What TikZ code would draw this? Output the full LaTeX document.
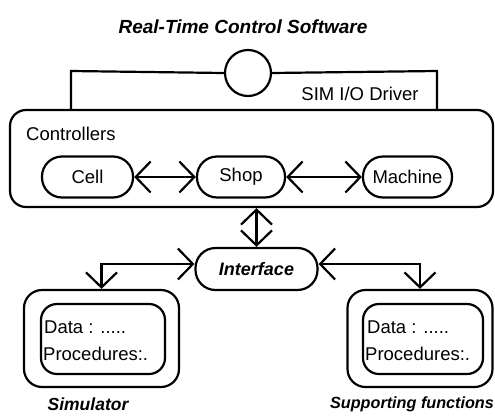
\documentclass[tikz,border=0pt]{standalone}
\usepackage{fontspec}
\setmainfont{Liberation Sans}
\usetikzlibrary{arrows.meta,calc}

\tikzset{
  box/.style={draw, line width=2.2pt, rounded corners=16pt, inner sep=0pt},
  pill/.style={draw, line width=2.2pt, rounded corners=20pt, minimum height=41pt,
               inner sep=0pt, font=\fontsize{18.5}{22}\selectfont},
  txt/.style={inner sep=0pt, font=\fontsize{18.5}{22}\selectfont},
  heading/.style={inner sep=0pt, font=\fontsize{18.5}{22}\selectfont\bfseries\itshape},
  barb/.tip={Straight Barb[length=15pt,width=31pt]},
  dbl/.style={line width=2.2pt, barb-barb},
  wire/.style={line width=2.2pt}
}

\begin{document}
\begin{tikzpicture}[x=1pt,y=-1pt]
\useasboundingbox (0,0) rectangle (495,418);

% title
\node[heading, font=\fontsize{19}{22}\selectfont\bfseries\itshape] (title) at (243,27) {Real-Time Control Software};

% controllers block
\node[box, minimum width=483pt, minimum height=97pt] (ctrl) at (251.5,158.5) {};
\node[txt, anchor=west] (ctrllbl) at (26,133.5) {Controllers};

% I/O driver bracket
\node[draw, circle, line width=2.2pt, minimum size=46pt, inner sep=0pt] (io) at (248,73) {};
\coordinate (bl) at (71,71);
\coordinate (br) at (437,71);
\draw[wire] (ctrl.north -| bl) -- (bl) -- (io.west);
\draw[wire] (io.east) -- (br) -- (ctrl.north -| br);
\node[txt] (iolbl) at (360,94) {SIM I/O Driver};

% controller levels
\node[pill, minimum width=91pt] (cell) at (87.5,177) {Cell};
\node[pill, minimum width=88pt] (shop) at (241,177) {Shop};
\node[pill, minimum width=89pt] (mach) at (407.5,177) {Machine};
\draw[dbl] (cell) -- (shop);
\draw[dbl] (shop) -- (mach);

% interface
\node[pill, minimum width=122pt, minimum height=42pt,
      font=\fontsize{18}{22}\selectfont\bfseries\itshape] (iface) at (256.5,269) {Interface};
\draw[dbl] (ctrl.south -| iface) -- (iface.north);

% simulator
\node[box, rounded corners=18pt, minimum width=155pt, minimum height=97pt] (simout) at (101.5,338.5) {};
\node[box, minimum width=124pt, minimum height=70pt] (simin) at (103,339) {};
\node[txt, anchor=west] (simdata) at (44,327.5) {Data : .....};
\node[txt, anchor=west] (simproc) at (43,354) {Procedures:.};
\node[heading, font=\fontsize{17.5}{22}\selectfont\bfseries\itshape] (simlbl) at (88,404) {Simulator};

% supporting functions
\node[box, rounded corners=18pt, minimum width=145pt, minimum height=97pt] (supout) at (420,338.5) {};
\node[box, minimum width=120pt, minimum height=70pt] (supin) at (423,339) {};
\node[txt, anchor=west] (supdata) at (367,327.5) {Data : .....};
\node[txt, anchor=west] (supproc) at (365,354) {Procedures:.};
\node[heading, font=\fontsize{16.2}{22}\selectfont\bfseries\itshape] (suplbl) at (412,404) {Supporting functions};

% links from the interface
\draw[dbl] ($(iface.west)+(0,-5)$) -| (simout.north);
\draw[dbl] ($(iface.east)+(0,-5)$) -| (supout.north);
\end{tikzpicture}
\end{document}
